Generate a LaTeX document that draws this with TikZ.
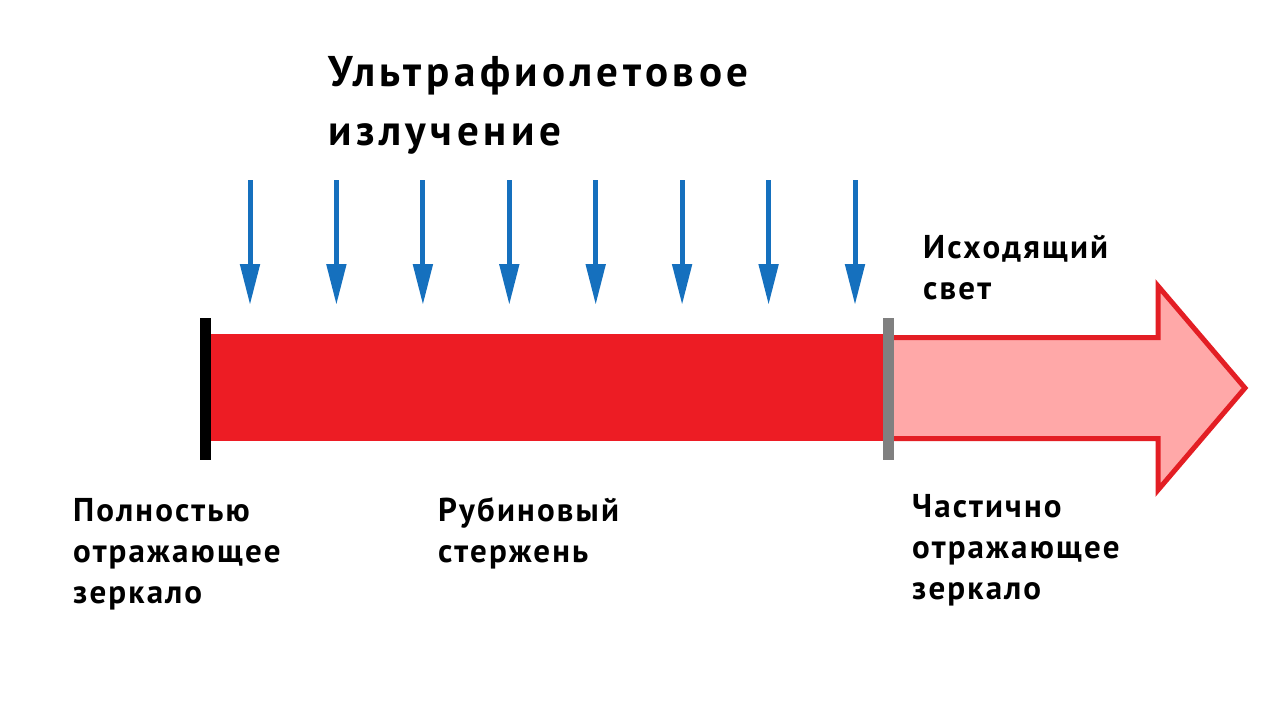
\documentclass[tikz,border=0pt]{standalone}
\usepackage{fontspec}
\setmainfont{PT Sans}
\newfontfamily\lblfont[LetterSpace=6.5]{PT Sans}
\newfontfamily\ttlfont[LetterSpace=10.5]{PT Sans}
\usetikzlibrary{arrows.meta}
\definecolor{rodred}{HTML}{ED1C24}
\definecolor{uvblue}{HTML}{1570BE}
\definecolor{outpink}{HTML}{FFA8A8}
\definecolor{outred}{HTML}{E31E24}
\definecolor{mirgray}{HTML}{808080}
\tikzset{
  lbl/.style={inner sep=0pt, anchor=base west, align=left, font=\lblfont\bfseries\fontsize{33}{41}\selectfont},
  ttl/.style={inner sep=0pt, anchor=base west, align=left, font=\ttlfont\bfseries\fontsize{43}{59}\selectfont},
  uvarrow/.style={draw=uvblue, line width=5pt, -{Triangle[length=41pt,width=19pt]}},
}
\begin{document}
\begin{tikzpicture}[x=1pt,y=-1pt]
\useasboundingbox (0,0) rectangle (1280,720);
\fill[white] (0,0) rectangle (1280,720);
% output light arrow
\draw[fill=outpink, draw=outred, line width=5pt, line join=miter]
  (889,337.5) -- (1158,337.5) -- (1158,286) -- (1245,388) -- (1158,490) -- (1158,438.5) -- (889,438.5);
% ruby rod
\fill[rodred] (208,334) rectangle (886,441);
% mirrors
\fill[black] (200,318) rectangle (211,460);
\fill[mirgray] (883,318) rectangle (894,460);
% UV arrows
\foreach \i [count=\k] in {250,336.4,422.9,509.3,595.7,682.1,768.6,855} {
  \coordinate (t\k) at (\i,180);
  \coordinate (b\k) at (\i,305);
  \draw[uvarrow] (t\k) -- (b\k);
}
% texts (anchor = baseline of the last line)
\node[ttl] (title) at (328,145) {Ультрафиолетовое\\излучение};
\node[lbl] (out) at (923,299) {Исходящий\\свет};
\node[lbl] (full) at (73,603) {Полностью\\отражающее\\зеркало};
\node[lbl] (rod) at (438,562) {Рубиновый\\стержень};
\node[lbl] (part) at (912,599) {Частично\\отражающее\\зеркало};
\end{tikzpicture}
\end{document}
